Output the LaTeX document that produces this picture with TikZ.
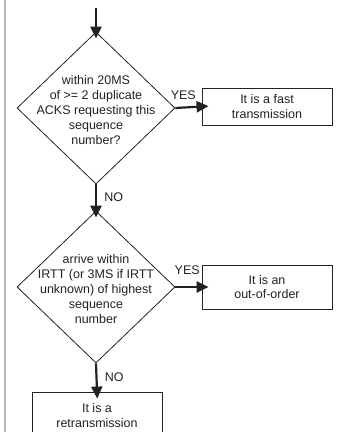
\documentclass[tikz,border=0pt]{standalone}
\usepackage{fontspec}
\setmainfont{Liberation Sans}
\usepackage{tikz}
\usetikzlibrary{shapes.geometric}
\usetikzlibrary{arrows.meta}
\definecolor{inkgray}{HTML}{222222}
\definecolor{rulegray}{HTML}{B8B8B8}
\tikzset{
        decision/.style={diamond, draw=inkgray, line width=0.8pt, inner sep=0pt, minimum width=158pt, minimum height=152pt},
        qtext/.style={align=center, text=inkgray, font=\fontsize{12.5}{14.8}\selectfont},
        outcome/.style={rectangle, draw=inkgray, line width=0.8pt, align=center, text=inkgray, minimum width=130pt, font=\fontsize{12.5}{14.8}\selectfont},
        flow/.style={-{Triangle[length=12pt, width=11pt]}, line width=2.2pt, draw=inkgray, shorten >=-7pt},
        tag/.style={text=inkgray, font=\fontsize{12.5}{14}\selectfont}
}
\begin{document}
\begin{tikzpicture}[x=1pt, y=-1pt]
                \useasboundingbox (0, 0) rectangle (342, 432);
                \draw[rulegray, line width=1.2pt] (5, 0) -- (5, 432);
                \coordinate (start) at (96, 8);
                \node[decision] (q1) at (96, 108) {};
                \node[qtext] (q1t) at (96, 110) {within 20MS\\of >= 2 duplicate\\ACKS requesting this\\sequence\\number?};
                \node[outcome, minimum height=37pt] (fast) at (267, 106.5) {It is a fast\\transmission};
                \node[decision] (q2) at (96, 287) {};
                \node[qtext] (q2t) at (96, 289) {arrive within\\IRTT (or 3MS if IRTT\\unknown) of highest\\sequence\\number};
                \node[outcome, minimum height=44pt] (ooo) at (267, 287) {It is an\\out-of-order};
                \node[outcome, minimum height=47pt] (retx) at (97, 415.5) {It is a\\retransmission};
                \draw[flow] (start) -- (q1.north);
                \draw[flow] (q1.east) -- (fast.west) node [tag, pos=0.3, above=3pt] {YES};
                \draw[flow] (q1.south) -- (q2.north) node [tag, midway, right=4pt] {NO};
                \draw[flow] (q2.east) -- (ooo.west) node [tag, pos=0.45, above=8pt] {YES};
                \draw[flow] (q2.south) -- (retx.north) node [tag, midway, right=4pt] {NO};
        \end{tikzpicture}
\end{document}
